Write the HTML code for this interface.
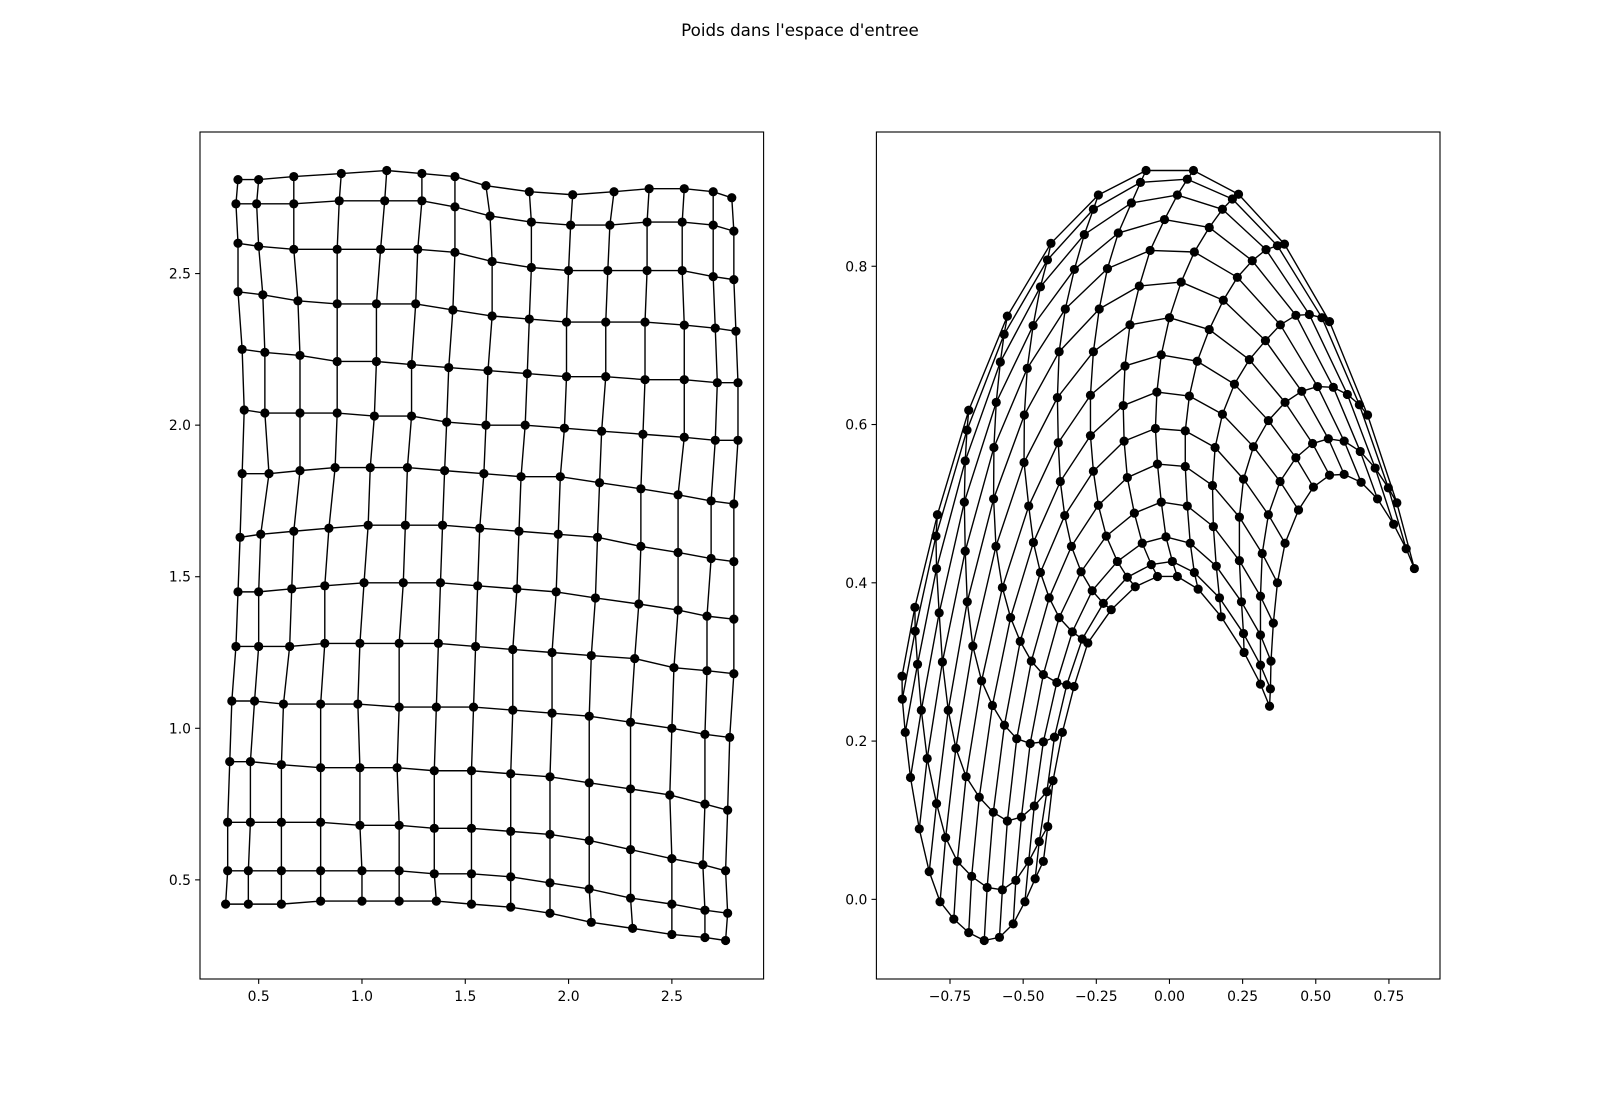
<!DOCTYPE html>
<html>
<head>
<meta charset="utf-8">
<style>
  html, body { margin: 0; padding: 0; background: #fff; }
  svg { display: block; }
  text { font-family: "DejaVu Sans", "Liberation Sans", sans-serif; fill: #000; }
</style>
</head>
<body>
<svg id="fig" width="1600" height="1100" viewBox="0 0 1600 1100" xmlns="http://www.w3.org/2000/svg">
  <rect x="0" y="0" width="1600" height="1100" fill="#fff"/>
  <text x="800" y="36" font-size="16.7" text-anchor="middle">Poids dans l'espace d'entree</text>
  <g id="left-panel"></g>
  <g id="right-panel"></g>
</svg>
<script>
// ---- Left panel data: rows (bottom to top), each with 15 nodes ----
const leftX = [
  [0.34,0.45,0.61,0.80,1.00,1.18,1.36,1.53,1.72,1.91,2.11,2.31,2.50,2.66,2.76],
  [0.35,0.45,0.61,0.80,1.00,1.18,1.35,1.53,1.72,1.91,2.10,2.30,2.50,2.66,2.77],
  [0.35,0.46,0.61,0.80,0.99,1.18,1.35,1.53,1.72,1.91,2.10,2.30,2.50,2.65,2.76],
  [0.36,0.46,0.61,0.80,0.99,1.17,1.35,1.53,1.72,1.91,2.10,2.30,2.49,2.66,2.77],
  [0.37,0.48,0.62,0.80,0.98,1.18,1.36,1.54,1.73,1.92,2.10,2.30,2.50,2.66,2.78],
  [0.39,0.50,0.65,0.82,0.99,1.18,1.37,1.55,1.73,1.92,2.11,2.32,2.51,2.67,2.80],
  [0.40,0.50,0.66,0.82,1.01,1.20,1.38,1.56,1.75,1.94,2.13,2.34,2.53,2.67,2.80],
  [0.41,0.51,0.67,0.84,1.03,1.21,1.39,1.57,1.76,1.95,2.14,2.35,2.53,2.69,2.80],
  [0.42,0.55,0.70,0.87,1.04,1.22,1.40,1.59,1.77,1.96,2.15,2.35,2.53,2.69,2.80],
  [0.43,0.53,0.70,0.88,1.06,1.24,1.41,1.60,1.79,1.98,2.16,2.36,2.56,2.71,2.82],
  [0.42,0.53,0.70,0.88,1.07,1.24,1.42,1.61,1.80,1.99,2.18,2.37,2.56,2.72,2.82],
  [0.40,0.52,0.69,0.88,1.07,1.26,1.44,1.63,1.81,1.99,2.18,2.37,2.56,2.71,2.81],
  [0.40,0.50,0.67,0.88,1.09,1.27,1.45,1.63,1.82,2.00,2.19,2.38,2.55,2.70,2.80],
  [0.39,0.49,0.67,0.89,1.11,1.29,1.45,1.62,1.82,2.01,2.20,2.38,2.55,2.70,2.80],
  [0.40,0.50,0.67,0.90,1.12,1.29,1.45,1.60,1.81,2.02,2.22,2.39,2.56,2.70,2.79]
];
const leftY = [
  [0.42,0.42,0.42,0.43,0.43,0.43,0.43,0.42,0.41,0.39,0.36,0.34,0.32,0.31,0.30],
  [0.53,0.53,0.53,0.53,0.53,0.53,0.52,0.52,0.51,0.49,0.47,0.44,0.42,0.40,0.39],
  [0.69,0.69,0.69,0.69,0.68,0.68,0.67,0.67,0.66,0.65,0.63,0.60,0.57,0.55,0.53],
  [0.89,0.89,0.88,0.87,0.87,0.87,0.86,0.86,0.85,0.84,0.82,0.80,0.78,0.75,0.73],
  [1.09,1.09,1.08,1.08,1.08,1.07,1.07,1.07,1.06,1.05,1.04,1.02,1.00,0.98,0.97],
  [1.27,1.27,1.27,1.28,1.28,1.28,1.28,1.27,1.26,1.25,1.24,1.23,1.20,1.19,1.18],
  [1.45,1.45,1.46,1.47,1.48,1.48,1.48,1.47,1.46,1.45,1.43,1.41,1.39,1.37,1.36],
  [1.63,1.64,1.65,1.66,1.67,1.67,1.67,1.66,1.65,1.64,1.63,1.60,1.58,1.56,1.55],
  [1.84,1.84,1.85,1.86,1.86,1.86,1.85,1.84,1.83,1.83,1.81,1.79,1.77,1.75,1.74],
  [2.05,2.04,2.04,2.04,2.03,2.03,2.01,2.00,2.00,1.99,1.98,1.97,1.96,1.95,1.95],
  [2.25,2.24,2.23,2.21,2.21,2.20,2.19,2.18,2.17,2.16,2.16,2.15,2.15,2.14,2.14],
  [2.44,2.43,2.41,2.40,2.40,2.40,2.38,2.36,2.35,2.34,2.34,2.34,2.33,2.32,2.31],
  [2.60,2.59,2.58,2.58,2.58,2.58,2.57,2.54,2.52,2.51,2.51,2.51,2.51,2.49,2.48],
  [2.73,2.73,2.73,2.74,2.74,2.74,2.72,2.69,2.67,2.66,2.66,2.67,2.67,2.66,2.64],
  [2.81,2.81,2.82,2.83,2.84,2.83,2.82,2.79,2.77,2.76,2.77,2.78,2.78,2.77,2.75]
];
const leftXTicks = [0.5, 1.0, 1.5, 2.0, 2.5];
const leftYTicks = [0.5, 1.0, 1.5, 2.0, 2.5];
const leftXTickLabels = ["0.5", "1.0", "1.5", "2.0", "2.5"];
const leftYTickLabels = ["0.5", "1.0", "1.5", "2.0", "2.5"];

// ---- Right panel data: rows (outer arch to inner arch), 15 nodes each ----
const rightX = [
  [-0.914,-0.870,-0.793,-0.686,-0.554,-0.405,-0.243,-0.080,0.082,0.236,0.393,0.547,0.677,0.777,0.837],
  [-0.913,-0.869,-0.798,-0.692,-0.565,-0.417,-0.260,-0.099,0.061,0.215,0.369,0.521,0.649,0.748,0.809],
  [-0.903,-0.861,-0.796,-0.698,-0.578,-0.441,-0.291,-0.130,0.027,0.181,0.330,0.478,0.608,0.703,0.766],
  [-0.885,-0.848,-0.787,-0.701,-0.592,-0.466,-0.325,-0.175,-0.017,0.136,0.283,0.432,0.560,0.652,0.711],
  [-0.855,-0.828,-0.776,-0.698,-0.600,-0.486,-0.356,-0.212,-0.066,0.085,0.232,0.379,0.506,0.597,0.655],
  [-0.821,-0.796,-0.756,-0.691,-0.601,-0.496,-0.377,-0.240,-0.103,0.040,0.184,0.328,0.452,0.543,0.597],
  [-0.784,-0.765,-0.730,-0.672,-0.593,-0.497,-0.383,-0.260,-0.135,0.000,0.136,0.273,0.395,0.489,0.547],
  [-0.737,-0.725,-0.695,-0.642,-0.571,-0.481,-0.380,-0.270,-0.152,-0.028,0.095,0.222,0.338,0.432,0.492],
  [-0.686,-0.676,-0.650,-0.605,-0.543,-0.465,-0.373,-0.270,-0.158,-0.043,0.068,0.181,0.287,0.378,0.441],
  [-0.633,-0.623,-0.602,-0.564,-0.510,-0.441,-0.358,-0.260,-0.155,-0.048,0.054,0.156,0.253,0.338,0.395],
  [-0.581,-0.571,-0.554,-0.522,-0.472,-0.411,-0.335,-0.243,-0.144,-0.041,0.054,0.147,0.239,0.317,0.369],
  [-0.534,-0.525,-0.506,-0.476,-0.431,-0.377,-0.302,-0.216,-0.120,-0.028,0.061,0.150,0.239,0.311,0.355],
  [-0.494,-0.481,-0.462,-0.431,-0.385,-0.332,-0.264,-0.178,-0.093,-0.012,0.071,0.160,0.246,0.311,0.347],
  [-0.459,-0.445,-0.419,-0.393,-0.351,-0.298,-0.226,-0.144,-0.062,0.010,0.085,0.171,0.253,0.311,0.345],
  [-0.431,-0.416,-0.398,-0.366,-0.326,-0.279,-0.199,-0.117,-0.041,0.027,0.098,0.177,0.255,0.311,0.342]
];
const rightY = [
  [0.282,0.369,0.486,0.618,0.737,0.829,0.890,0.921,0.921,0.891,0.828,0.730,0.612,0.501,0.418],
  [0.253,0.339,0.459,0.593,0.714,0.808,0.872,0.906,0.910,0.885,0.826,0.735,0.625,0.520,0.443],
  [0.211,0.297,0.418,0.554,0.679,0.774,0.840,0.880,0.890,0.872,0.821,0.739,0.638,0.545,0.474],
  [0.154,0.239,0.362,0.502,0.628,0.725,0.796,0.842,0.859,0.849,0.807,0.738,0.647,0.566,0.506],
  [0.089,0.178,0.300,0.440,0.571,0.671,0.746,0.797,0.820,0.818,0.786,0.726,0.648,0.579,0.527],
  [0.035,0.121,0.239,0.376,0.506,0.612,0.692,0.746,0.775,0.780,0.757,0.706,0.642,0.582,0.537],
  [-0.003,0.078,0.191,0.320,0.446,0.552,0.634,0.692,0.726,0.735,0.720,0.682,0.628,0.576,0.536],
  [-0.025,0.048,0.155,0.276,0.394,0.497,0.577,0.637,0.674,0.688,0.680,0.651,0.605,0.558,0.521],
  [-0.042,0.029,0.129,0.245,0.356,0.451,0.528,0.586,0.624,0.641,0.636,0.613,0.572,0.528,0.492],
  [-0.052,0.015,0.110,0.220,0.326,0.413,0.485,0.541,0.579,0.595,0.592,0.571,0.531,0.486,0.450],
  [-0.048,0.012,0.099,0.203,0.301,0.381,0.446,0.498,0.533,0.550,0.547,0.523,0.483,0.437,0.400],
  [-0.031,0.024,0.104,0.197,0.284,0.356,0.414,0.459,0.488,0.502,0.497,0.471,0.428,0.383,0.349],
  [-0.003,0.048,0.118,0.199,0.274,0.338,0.390,0.427,0.450,0.458,0.450,0.421,0.376,0.334,0.301],
  [0.026,0.073,0.136,0.205,0.271,0.329,0.374,0.407,0.423,0.427,0.413,0.381,0.336,0.296,0.266],
  [0.048,0.092,0.150,0.211,0.269,0.324,0.366,0.395,0.408,0.408,0.392,0.357,0.312,0.272,0.244]
];
const rightXTicks = [-0.75, -0.5, -0.25, 0.0, 0.25, 0.5, 0.75];
const rightYTicks = [0.0, 0.2, 0.4, 0.6, 0.8];
const rightXTickLabels = ["\u22120.75", "\u22120.50", "\u22120.25", "0.00", "0.25", "0.50", "0.75"];
const rightYTickLabels = ["0.0", "0.2", "0.4", "0.6", "0.8"];

const NS = "http://www.w3.org/2000/svg";
function mk(tag, attrs, parent) {
  const el = document.createElementNS(NS, tag);
  for (const k in attrs) el.setAttribute(k, attrs[k]);
  parent.appendChild(el);
  return el;
}
function extent(arr2d) {
  let mn = Infinity, mx = -Infinity;
  arr2d.forEach(r => r.forEach(v => { if (v < mn) mn = v; if (v > mx) mx = v; }));
  const m = (mx - mn) * 0.05;
  return [mn - m, mx + m];
}

function drawPanel(g, box, X, Y, xt, xtl, yt, ytl, prefix) {
  const [x0, x1] = extent(X);
  const [y0, y1] = extent(Y);
  const sx = v => box.x + (v - x0) / (x1 - x0) * box.w;
  const sy = v => box.y + box.h - (v - y0) / (y1 - y0) * box.h;
  const nR = X.length, nC = X[0].length;

  for (let i = 0; i < nR; i++) {
    const pts = X[i].map((v, j) => sx(v).toFixed(2) + "," + sy(Y[i][j]).toFixed(2)).join(" ");
    const pl = mk("polyline", {points: pts, fill: "none", stroke: "#000", "stroke-width": 1.4, "stroke-linejoin": "round"}, g);
    
    
  }
  for (let j = 0; j < nC; j++) {
    const pts = X.map((r, i) => sx(r[j]).toFixed(2) + "," + sy(Y[i][j]).toFixed(2)).join(" ");
    const pl = mk("polyline", {points: pts, fill: "none", stroke: "#000", "stroke-width": 1.4, "stroke-linejoin": "round"}, g);
    
    
  }
  for (let i = 0; i < nR; i++) for (let j = 0; j < nC; j++) {
    const c = mk("circle", {cx: sx(X[i][j]).toFixed(2), cy: sy(Y[i][j]).toFixed(2), r: 4.6, fill: "#000"}, g);
    
    
  }
  const fr = mk("rect", {x: box.x, y: box.y, width: box.w, height: box.h, fill: "none", stroke: "#000", "stroke-width": 1.1}, g);
  
  
  xt.forEach((v, k) => {
    const px = sx(v);
    const t = mk("line", {x1: px, x2: px, y1: box.y + box.h, y2: box.y + box.h + 4.9, stroke: "#000", "stroke-width": 1.1}, g);
    
    
    const tx = mk("text", {x: px, y: box.y + box.h + 22, "font-size": 13.9, "text-anchor": "middle"}, g);
    tx.textContent = xtl[k];
    
    
  });
  yt.forEach((v, k) => {
    const py = sy(v);
    const t = mk("line", {x1: box.x - 4.9, x2: box.x, y1: py, y2: py, stroke: "#000", "stroke-width": 1.1}, g);
    
    
    const tx = mk("text", {x: box.x - 9, y: py + 5, "font-size": 13.9, "text-anchor": "end"}, g);
    tx.textContent = ytl[k];
    
    
  });
}

drawPanel(document.getElementById("left-panel"), {x: 200, y: 132, w: 563.6, h: 847},
  leftX, leftY, leftXTicks, leftXTickLabels, leftYTicks, leftYTickLabels, "left");
drawPanel(document.getElementById("right-panel"), {x: 876.4, y: 132, w: 563.6, h: 847},
  rightX, rightY, rightXTicks, rightXTickLabels, rightYTicks, rightYTickLabels, "right");
</script>
</body>
</html>
